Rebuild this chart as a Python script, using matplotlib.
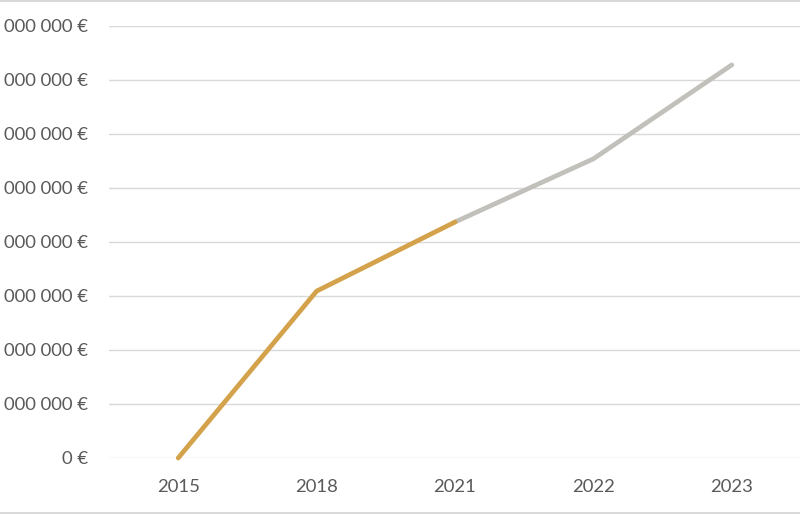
import matplotlib
matplotlib.use("Agg")
import matplotlib.pyplot as plt
from matplotlib.lines import Line2D

years = ["2015", "2018", "2021", "2022", "2023"]
actual_values = [0, 3090000, 4370000]          # 2015, 2018, 2021
forecast_values = [4370000, 5540000, 7280000]  # 2021, 2022, 2023
y_ticks = [0, 1000000, 2000000, 3000000, 4000000, 5000000, 6000000, 7000000, 8000000]
# tick labels as visible in the (left-cropped) reference
y_labels = ["0 €", "000 000 €", "000 000 €", "000 000 €", "000 000 €",
            "000 000 €", "000 000 €", "000 000 €", "000 000 €"]

plt.rcParams['font.family'] = ['Lato', 'DejaVu Sans']

fig = plt.figure(figsize=(8, 5.15), dpi=100)
ax = fig.add_axes([109/800, 57/515, 692/800, 432/515])

x = list(range(len(years)))
ax.plot(x[2:], forecast_values, color="#C2C0BB", lw=3.4, solid_capstyle="round", zorder=3, clip_on=False)
ax.plot(x[:3], actual_values, color="#D3A24B", lw=3.4, solid_capstyle="round", zorder=4, clip_on=False)

ax.set_xlim(-0.5, 4.5)
ax.set_ylim(0, 8000000)
ax.set_xticks(x)
ax.set_xticklabels(years)
ax.set_yticks(y_ticks)
ax.set_yticklabels(y_labels)

ax.grid(axis="y", color="#D9D9D9", lw=1)
ax.set_axisbelow(True)
for s in ax.spines.values():
    s.set_visible(False)
ax.tick_params(axis="both", length=0, colors="#595959", labelsize=13.3)
ax.tick_params(axis="y", pad=15)
ax.tick_params(axis="x", pad=15)

# chart-area border lines (top and bottom)
fig.add_artist(Line2D([0, 1], [1 - 1/515, 1 - 1/515], transform=fig.transFigure, color="#D9D9D9", lw=1.5))
fig.add_artist(Line2D([0, 1], [2.5/515, 2.5/515], transform=fig.transFigure, color="#D9D9D9", lw=1.5))

fig.savefig("out.png", dpi=100)
